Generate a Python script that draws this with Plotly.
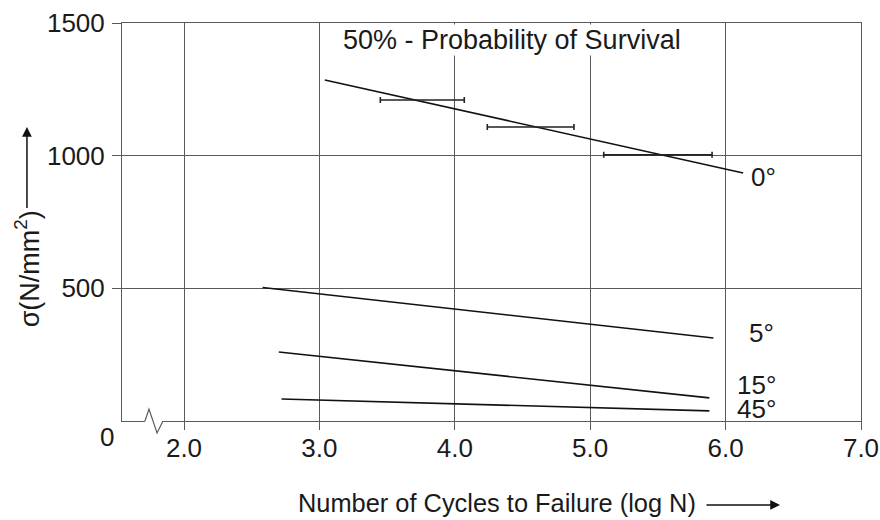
import plotly.graph_objects as go

# S-N lines for each fibre angle (start / end of each line)
angle_labels = ["0°", "5°", "15°", "45°"]
log_n_start = [3.04, 2.58, 2.70, 2.72]
log_n_end = [6.13, 5.91, 5.88, 5.88]
stress_start = [1285, 503, 260, 83]
stress_end = [935, 313, 87, 38]

# scatter bands on the 0° line
band_center = [3.76, 4.56, 5.50]
band_half = [0.31, 0.32, 0.40]
band_stress = [1210, 1108, 1003]

x_ticks = [2.0, 3.0, 4.0, 5.0, 6.0, 7.0]
y_ticks = [500, 1000, 1500]

FONT = "Liberation Sans, Arial, sans-serif"
GRID = "#5a5a5a"

fig = go.Figure()

for i in range(len(angle_labels)):
    fig.add_trace(go.Scatter(
        x=[log_n_start[i], log_n_end[i]],
        y=[stress_start[i], stress_end[i]],
        mode="lines",
        line=dict(color="#111", width=1.6),
        name=angle_labels[i],
        showlegend=False
    ))

fig.add_trace(go.Scatter(
    x=band_center,
    y=band_stress,
    mode="markers",
    marker=dict(size=1, color="rgba(0,0,0,0)"),
    error_x=dict(type="data", array=band_half, color="#222", thickness=1.6, width=3),
    showlegend=False
))

fig.update_layout(
    width=880,
    height=520,
    margin=dict(l=122, r=19, t=23, b=99),
    plot_bgcolor="white",
    paper_bgcolor="white",
    font=dict(family=FONT, size=26, color="#1a1a1a"),
    xaxis=dict(
        range=[1.542, 7.0],
        tickvals=x_ticks,
        ticktext=["%.1f" % v for v in x_ticks],
        showgrid=True, gridcolor=GRID, gridwidth=1,
        zeroline=False, automargin=False,
        showline=True, linecolor=GRID, linewidth=1, mirror=True,
        ticks="outside", ticklen=8, tickcolor=GRID,
        ticklabelstandoff=-4,
        tickfont=dict(size=26)
    ),
    yaxis=dict(
        range=[0, 1500],
        tickvals=y_ticks,
        showgrid=True, gridcolor=GRID, gridwidth=1,
        zeroline=False, automargin=False,
        showline=True, linecolor=GRID, linewidth=1, mirror=True,
        ticks="outside", ticklen=9, tickcolor=GRID,
        ticklabelstandoff=2,
        tickfont=dict(size=26)
    )
)

# angle labels next to line ends
label_shift = [(6, -4), (34, 5), (26, 13), (26, 2)]
for i, lab in enumerate(angle_labels):
    fig.add_annotation(
        x=log_n_end[i], y=stress_end[i], text=lab, showarrow=False,
        xanchor="left", yanchor="middle",
        xshift=label_shift[i][0], yshift=label_shift[i][1],
        font=dict(size=26)
    )

# chart caption inside the frame (white box interrupts gridlines)
fig.add_annotation(
    x=0.5275, y=0.998, xref="paper", yref="paper",
    text="50% - Probability of Survival", showarrow=False,
    xanchor="center", yanchor="top",
    bgcolor="white", borderpad=0,
    font=dict(size=27)
)

# y origin label
fig.add_annotation(
    x=-0.0203, y=-0.040, xref="paper", yref="paper",
    text="0", showarrow=False, xanchor="center", yanchor="middle",
    font=dict(size=26)
)

# axis titles with arrows
fig.add_annotation(
    x=-0.128, y=0.382, xref="paper", yref="paper",
    text="σ(N/mm<sup>2</sup>)", textangle=-90, showarrow=False,
    xanchor="center", yanchor="middle", font=dict(size=27)
)
fig.add_annotation(
    x=-0.1286, y=0.7387, xref="paper", yref="paper",
    text=" ", showarrow=True, ax=0, ay=83, font=dict(size=1),
    arrowhead=2, arrowsize=1.3, arrowwidth=1.5, arrowcolor="#111", standoff=0
)
fig.add_annotation(
    x=0.7794, y=-0.206, xref="paper", yref="paper",
    text="Number of Cycles to Failure (log N)", showarrow=False,
    xanchor="right", yanchor="middle", font=dict(size=25.4)
)
fig.add_annotation(
    x=0.8904, y=-0.211, xref="paper", yref="paper",
    text=" ", showarrow=True, ax=-75, ay=0, font=dict(size=1),
    arrowhead=2, arrowsize=1.3, arrowwidth=1.5, arrowcolor="#111", standoff=0
)

# axis break symbol on the x axis
fig.add_shape(type="line", xref="x domain", yref="y domain",
              x0=0.0311, x1=0.0555, y0=0, y1=0,
              line=dict(color="white", width=3), layer="above")
fig.add_shape(type="path", xref="x domain", yref="y domain",
              path="M 0.0311 0 L 0.0365 0.030 L 0.0474 -0.030 L 0.0555 0",
              line=dict(color=GRID, width=1.2), layer="above")

# drop the default page margin so the 880x520 figure fills the window exactly
fig.write_html("out.html", config={"displayModeBar": False},
               post_script="document.body.style.margin='0';")
